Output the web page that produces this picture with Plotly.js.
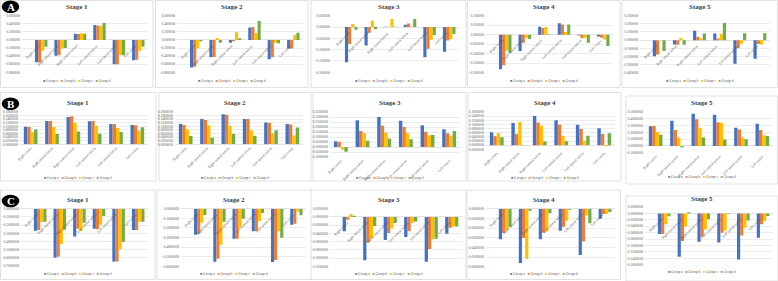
<!DOCTYPE html>
<html><head><meta charset="utf-8">
<script src="https://cdn.plot.ly/plotly-3.0.1.min.js"></script>
<style>html,body{margin:0;padding:0;background:#fff;overflow:hidden}#chart{width:778px;height:281px}</style>
</head><body><div id="chart"></div>
<script>
const categories = ["Right cortex","Right lateral sulcus","Right central sulcus","Left central sulcus","Left lateral sulcus","Left cortex"];
const groups = ["Group a","Group b","Group c","Group d"];
const stageNames = ["Stage 1","Stage 2","Stage 3","Stage 4","Stage 5"];
const rowLetters = ["A","B","C"];
const colors = ["#4472C4","#ED7D31","#FFC000","#70AD47"];

// Row A
const A1 = [[-0.55,-0.39,0.156,0.37,-0.60,-0.50],[-0.56,-0.38,0.148,0.36,-0.60,-0.49],[-0.27,-0.21,0.165,0.354,-0.37,-0.27],[-0.17,-0.20,0.156,0.42,-0.38,-0.165]];
const A2 = [[-0.68,-0.43,-0.066,0.31,-0.48,-0.21],[-0.66,-0.42,-0.03,0.32,-0.43,-0.21],[-0.21,0.05,0.19,0.17,-0.07,0.12],[-0.03,-0.066,0.04,0.47,-0.08,0.18]];
const A3 = [[-0.156,-0.082,0.001,0.010,-0.134,-0.109],[-0.075,-0.025,0.001,0.015,-0.096,-0.059],[0.013,0.028,0.035,0.002,-0.056,-0.054],[-0.012,-0.010,0.001,0.035,-0.035,-0.031]];
const A4 = [[-0.182,-0.086,0.042,0.060,-0.004,-0.009],[-0.161,-0.042,0.035,0.054,-0.019,-0.016],[-0.084,-0.016,0.040,0.014,-0.016,-0.025],[-0.095,-0.023,0.002,0.054,-0.042,-0.060]];
const A5 = [[-0.197,-0.053,0.115,0.082,-0.291,-0.23],[-0.176,-0.057,0.041,0.02,-0.10,-0.049],[-0.005,0.025,0.02,0.078,-0.045,-0.053],[-0.135,-0.057,0.082,0.209,0.086,0.086]];
// Row B
const B1 = [[0.098,0.130,0.152,0.128,0.113,0.108],[0.096,0.130,0.156,0.130,0.113,0.106],[0.069,0.096,0.119,0.104,0.091,0.076],[0.082,0.058,0.072,0.059,0.069,0.095]];
const B2 = [[0.113,0.141,0.167,0.141,0.122,0.113],[0.108,0.135,0.165,0.141,0.119,0.111],[0.084,0.106,0.102,0.078,0.061,0.050],[0.046,0.037,0.058,0.048,0.078,0.093]];
const B3 = [[0.057,0.267,0.30,0.263,0.217,0.177],[0.053,0.16,0.213,0.20,0.153,0.137],[-0.027,0.14,0.143,0.14,0.117,0.113],[-0.047,0.063,0.083,0.077,0.12,0.16]];
const B4 = [[0.062,0.107,0.141,0.12,0.098,0.082],[0.043,0.054,0.109,0.098,0.078,0.054],[0.059,0.112,0.094,0.045,0.021,-0.005],[0.038,0.0005,0.018,0.019,0.045,0.058]];
const B5 = [[0.29,0.37,0.473,0.458,0.266,0.325],[0.295,0.236,0.394,0.35,0.241,0.236],[0.207,0.123,0.266,0.34,0.123,0.158],[0.163,-0.02,0.123,0.094,0.10,0.148]];
// Row C
const C1 = [[-0.268,-0.598,-0.341,-0.244,-0.646,-0.26],[-0.26,-0.585,-0.244,-0.252,-0.646,-0.26],[-0.163,-0.431,-0.272,-0.195,-0.496,-0.159],[-0.159,-0.256,-0.171,-0.089,-0.406,-0.159]];
const C2 = [[-0.271,-0.552,-0.312,-0.236,-0.556,-0.167],[-0.26,-0.521,-0.312,-0.233,-0.535,-0.156],[-0.146,-0.375,-0.194,-0.128,-0.236,-0.031],[-0.066,-0.135,-0.104,-0.045,-0.302,-0.069]];
const C3 = [[-0.035,-0.105,-0.056,-0.049,-0.109,-0.041],[-0.007,-0.062,-0.039,-0.035,-0.078,-0.026],[0.0065,-0.052,-0.028,-0.015,-0.054,-0.023],[0.003,-0.022,-0.015,-0.011,-0.053,-0.023]];
const C4 = [[-0.0317,-0.0562,-0.0317,-0.0228,-0.048,-0.0103],[-0.0248,-0.0303,-0.0248,-0.0186,-0.034,-0.0055],[-0.0214,-0.0517,-0.0234,-0.0124,-0.007,-0.0055],[-0.0186,-0.002,-0.0048,-0.001,-0.015,-0.0034]];
const C5 = [[-0.0646,-0.135,-0.0885,-0.0906,-0.144,-0.076],[-0.0646,-0.086,-0.072,-0.060,-0.069,-0.034],[-0.034,-0.041,-0.05,-0.053,-0.045,-0.024],[-0.009,0.004,-0.018,0.001,-0.022,-0.008]];

// Y tick values per panel
const ticksA1 = [-0.8,-0.6,-0.4,-0.2,0,0.2,0.4,0.6];
const ticksA2 = [-0.8,-0.6,-0.4,-0.2,0,0.2,0.4,0.6];
const ticksA3 = [-0.2,-0.15,-0.1,-0.05,0,0.05];
const ticksA4 = [-0.2,-0.15,-0.1,-0.05,0,0.05,0.1];
const ticksA5 = [-0.4,-0.3,-0.2,-0.1,0,0.1,0.2,0.3];
const ticksB1 = [0,0.02,0.04,0.06,0.08,0.1,0.12,0.14,0.16,0.18];
const ticksB2 = [0,0.02,0.04,0.06,0.08,0.1,0.12,0.14,0.16,0.18];
const ticksB3 = [-0.1,-0.05,0,0.05,0.1,0.15,0.2,0.25,0.3,0.35];
const ticksB4 = [-0.02,0,0.02,0.04,0.06,0.08,0.1,0.12,0.14,0.16];
const ticksB5 = [-0.1,0,0.1,0.2,0.3,0.4,0.5];
const ticksC1 = [-0.7,-0.6,-0.5,-0.4,-0.3,-0.2,-0.1,0];
const ticksC2 = [-0.6,-0.5,-0.4,-0.3,-0.2,-0.1,0];
const ticksC3 = [-0.12,-0.1,-0.08,-0.06,-0.04,-0.02,0,0.02];
const ticksC4 = [-0.06,-0.05,-0.04,-0.03,-0.02,-0.01,0];
const ticksC5 = [-0.16,-0.14,-0.12,-0.1,-0.08,-0.06,-0.04,-0.02,0,0.02];

// Layout geometry (pixels): plot area and panel box
const W = 778, H = 281;
const panels = [
 {d:A1,t:ticksA1,fmt:'.6f',r:0,c:0,plot:[22,148,15.7,72.3],box:[0.5,153,0.5,87.5],ty:7,ly:80.7},
 {d:A2,t:ticksA2,fmt:'.6f',r:0,c:1,plot:[177,303,15.7,72.3],box:[155.5,308,0.5,87.5],ty:7,ly:80.7},
 {d:A3,t:ticksA3,fmt:'.6f',r:0,c:2,plot:[332,459,15.7,72.3],box:[311,466,0.5,87.5],ty:7,ly:80.7},
 {d:A4,t:ticksA4,fmt:'.6f',r:0,c:3,plot:[486,613,15.7,72.7],box:[467.5,620,0.5,87.5],ty:7,ly:80.7},
 {d:A5,t:ticksA5,fmt:'.6f',r:0,c:4,plot:[640,770,15.7,72.7],box:[622,777.5,0.5,87.5],ty:7,ly:80.7},
 {d:B1,t:ticksB1,fmt:'.7f',r:1,c:0,plot:[20,148,112,144.3],box:[0.5,156,92.5,181],ty:103,ly:177.5},
 {d:B2,t:ticksB2,fmt:'.7f',r:1,c:1,plot:[175,303,112,144.3],box:[159,311,92.5,181],ty:103,ly:177.5},
 {d:B3,t:ticksB3,fmt:'.7f',r:1,c:2,plot:[330,460,112,157],box:[313,466,92.5,181],ty:103,ly:177.5},
 {d:B4,t:ticksB4,fmt:'.7f',r:1,c:3,plot:[486,615,112,149.3],box:[468,621,92.5,181],ty:103,ly:177.5},
 {d:B5,t:ticksB5,fmt:'.7f',r:1,c:4,plot:[645,773,112,152.7],box:[626,777.5,96,184],ty:103,ly:177},
 {d:C1,t:ticksC1,fmt:'.7f',r:2,c:0,plot:[21,148,208.7,266],box:[0.5,155,190,279.5],ty:200,ly:274},
 {d:C2,t:ticksC2,fmt:'.7f',r:2,c:1,plot:[181,306,208.7,266.3],box:[157,311.5,190,279.5],ty:200,ly:274},
 {d:C3,t:ticksC3,fmt:'.7f',r:2,c:2,plot:[330,462,208.7,266.3],box:[311,466,190,279.5],ty:200,ly:274},
 {d:C4,t:ticksC4,fmt:'.7f',r:2,c:3,plot:[486,615,208.7,266.7],box:[467,620.5,190,279.5],ty:200,ly:274},
 {d:C5,t:ticksC5,fmt:'.7f',r:2,c:4,plot:[645,773,207,264.7],box:[626,778,196,281],ty:199,ly:272}
];

const FONT = "Liberation Serif, Times New Roman, serif";
const traces = [];
const layout = {
  width: W, height: H, margin:{l:0,r:0,t:0,b:0},
  paper_bgcolor:'#ffffff', plot_bgcolor:'rgba(0,0,0,0)',
  showlegend:false, barmode:'group', bargap:0.36, bargroupgap:0,
  font:{family:FONT, size:4, color:'#595959'},
  shapes:[], annotations:[]
};
const px = v => v / W;
const py = v => 1 - v / H;

panels.forEach((p, i) => {
  const n = i + 1;
  const sfx = n === 1 ? '' : String(n);
  const xa = 'x' + sfx, ya = 'y' + sfx;
  p.d.forEach((vals, g) => {
    traces.push({type:'bar', x:categories, y:vals, name:groups[g], xaxis:xa, yaxis:ya,
      marker:{color:colors[g], line:{width:0}}, hoverinfo:'skip'});
  });
  const lowLabels = p.r === 1;
  layout['xaxis' + sfx] = {
    domain:[px(p.plot[0]), px(p.plot[1])], anchor:ya,
    showgrid:false, zeroline:false, showline:false, ticks:'',
    showticklabels:lowLabels, tickangle:-45,
    tickfont:{family:FONT, size:3.6, color:'#595959'}, fixedrange:true
  };
  const tmin = Math.min(...p.t), tmax = Math.max(...p.t);
  const pad = (tmax - tmin) * 1e-6;
  layout['yaxis' + sfx] = {
    domain:[py(p.plot[3]), py(p.plot[2])], anchor:xa,
    range:[tmin - pad, tmax + pad], tickmode:'array', tickvals:p.t, tickformat:p.fmt,
    showgrid:true, gridcolor:'#d9d9d9', gridwidth:0.5,
    zeroline:true, zerolinecolor:'#d0d0d0', zerolinewidth:0.6,
    showline:false, ticks:'', ticklabelstandoff:1,
    tickfont:{family:FONT, size:3.6, color:'#595959'}, fixedrange:true
  };
  // panel box
  layout.shapes.push({type:'rect', xref:'paper', yref:'paper', layer:'below',
    x0:px(p.box[0]), x1:px(p.box[1]), y0:py(p.box[3]), y1:py(p.box[2]),
    line:{color:'#d9d9d9', width:0.8}, fillcolor:'#ffffff'});
  const cx = (p.box[0] + p.box[1]) / 2;
  // title
  layout.annotations.push({xref:'paper', yref:'paper', x:px(cx), y:py(p.ty),
    text:'<b>' + stageNames[p.c] + '</b>', showarrow:false, xanchor:'center', yanchor:'middle',
    font:{family:FONT, size:7, color:'#404040'}});
  // legend
  const legText = groups.map((g, k) => '<span style="color:' + colors[k] + '">\u25A0</span>\u00a0' + g).join('\u00a0\u00a0\u00a0');
  layout.annotations.push({xref:'paper', yref:'paper', x:px(cx), y:py(p.ly),
    text:legText, showarrow:false, xanchor:'center', yanchor:'middle',
    font:{family:FONT, size:3.6, color:'#595959'}});
  // category labels at the zero line (rows A and C)
  if (!lowLabels) {
    categories.forEach(cat => {
      layout.annotations.push({xref:xa, yref:ya, x:cat, y:0, text:cat, textangle:-45,
        showarrow:false, xanchor:'right', yanchor:'top', xshift:2, yshift:-1,
        font:{family:FONT, size:3.6, color:'#595959'}});
    });
  }
});

// Row letter badges
const badgeY = [6.7, 103.7, 201];
rowLetters.forEach((L, r) => {
  layout.shapes.push({type:'circle', xref:'paper', yref:'paper', layer:'above',
    x0:px(1.7), x1:px(19.3), y0:py(badgeY[r] + 6.3), y1:py(badgeY[r] - 6.3),
    fillcolor:'#000000', line:{color:'#000000', width:0}});
  layout.annotations.push({xref:'paper', yref:'paper', x:px(10.5), y:py(badgeY[r]),
    text:'<b>' + L + '</b>', showarrow:false, xanchor:'center', yanchor:'middle',
    font:{family:FONT, size:11, color:'#ffffff'}});
});

Plotly.newPlot('chart', traces, layout, {staticPlot:true, displayModeBar:false});
</script></body></html>
